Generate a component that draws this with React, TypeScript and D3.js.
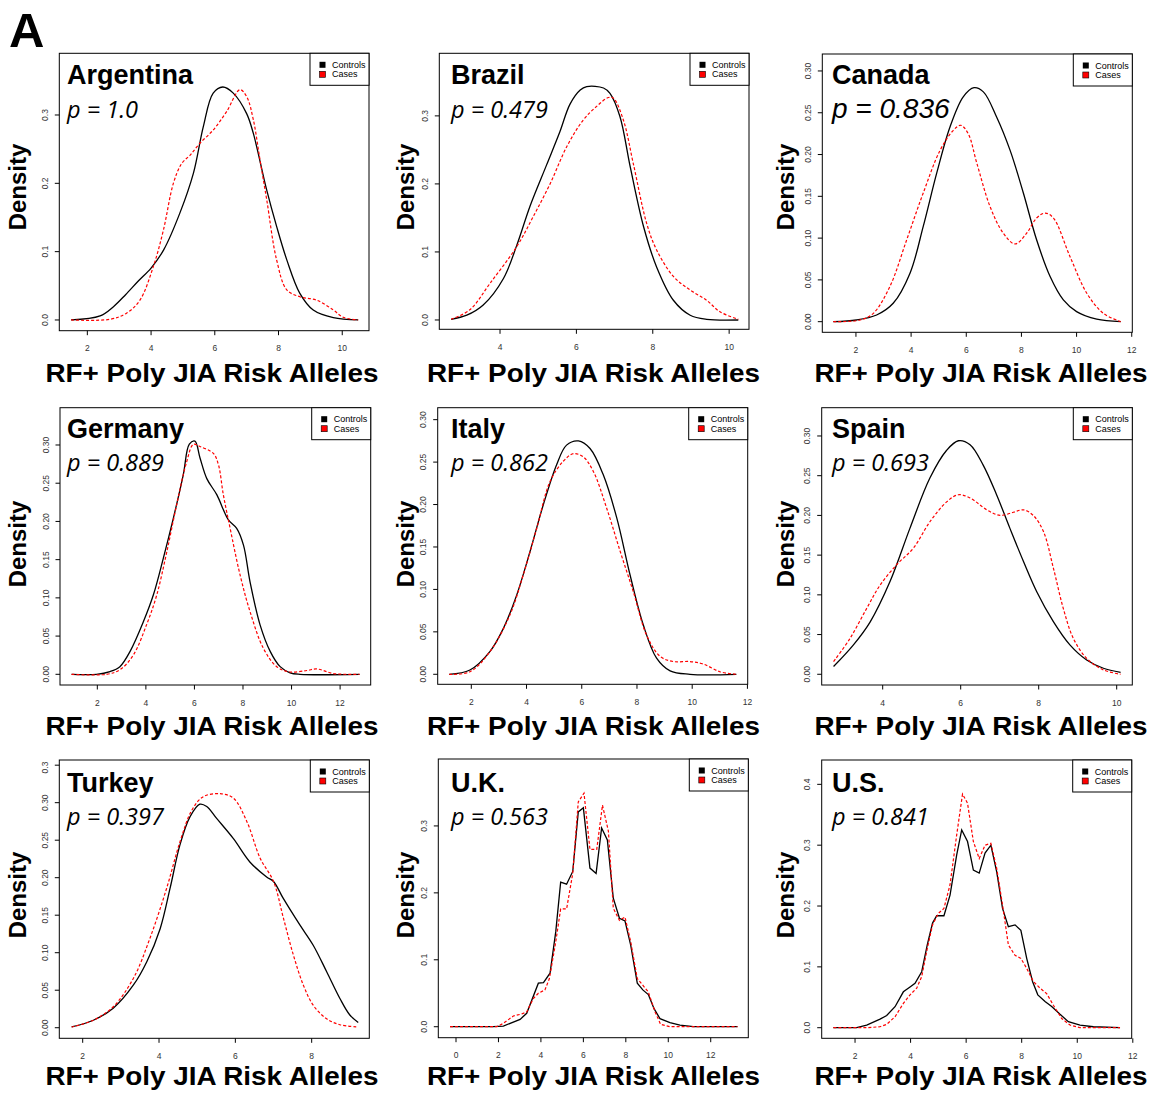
import React from 'react';
import * as d3 from 'd3';

// ---------- text ----------
const COUNTRIES = ['Argentina', 'Brazil', 'Canada', 'Germany', 'Italy', 'Spain', 'Turkey', 'U.K.', 'U.S.'];
const P_LABELS = ['p = 1.0', 'p = 0.479', 'p = 0.836', 'p = 0.889', 'p = 0.862', 'p = 0.693', 'p = 0.397', 'p = 0.563', 'p = 0.841'];
const SERIES = ['Controls', 'Cases'];
const X_LABEL = 'RF+ Poly JIA Risk Alleles';
const Y_LABEL = 'Density';
const PANEL_LETTER = 'A';

// ---------- data: [risk alleles, density] ----------
const ARG_CONTROLS = [[1.49,0],[2.4,0.006],[2.82,0.0195],[3.2,0.037],[3.6,0.057],[4.0,0.076],[4.4,0.103],[4.9,0.156],[5.33,0.215],[5.64,0.283],[5.95,0.332],[6.25,0.341],[6.58,0.332],[7.0,0.302],[7.21,0.273],[7.63,0.19],[7.94,0.137],[8.26,0.088],[8.67,0.039],[9.09,0.0146],[9.72,0.0034],[10.5,0]];
const ARG_CASES = [[1.49,0],[2.71,0.001],[3.23,0.01],[3.65,0.029],[4.07,0.078],[4.39,0.132],[4.7,0.2],[4.96,0.229],[5.22,0.241],[5.54,0.259],[5.95,0.278],[6.37,0.305],[6.79,0.337],[7.0,0.327],[7.21,0.293],[7.42,0.234],[7.63,0.176],[7.94,0.088],[8.26,0.044],[8.67,0.034],[9.2,0.029],[9.72,0.0146],[10.03,0.004],[10.5,0]];
const BRA_CONTROLS = [[2.72,0.001],[3.13,0.007],[3.56,0.022],[4.09,0.061],[4.44,0.11],[4.79,0.168],[5.22,0.228],[5.57,0.277],[5.83,0.317],[6.1,0.338],[6.27,0.343],[6.71,0.341],[6.88,0.333],[7.14,0.299],[7.41,0.225],[7.76,0.137],[8.1,0.078],[8.54,0.029],[8.98,0.007],[9.41,0.001],[10.24,0]];
const BRA_CASES = [[2.72,0.001],[3.21,0.015],[3.74,0.054],[4.44,0.108],[4.87,0.152],[5.31,0.2],[5.75,0.255],[6.18,0.294],[6.53,0.314],[6.84,0.327],[6.97,0.326],[7.23,0.294],[7.49,0.23],[7.84,0.142],[8.1,0.103],[8.54,0.064],[8.98,0.044],[9.41,0.029],[9.76,0.012],[10.24,0.001]];
const CAN_CONTROLS = [[1.18,0],[2.02,0.002],[2.75,0.008],[3.35,0.022],[3.96,0.058],[4.44,0.114],[4.93,0.178],[5.41,0.233],[5.89,0.269],[6.28,0.28],[6.62,0.275],[7.1,0.245],[7.59,0.205],[8.07,0.154],[8.55,0.098],[9.04,0.054],[9.52,0.026],[10.0,0.012],[10.73,0.003],[11.6,0]];
const CAN_CASES = [[1.18,0],[2.15,0.002],[2.63,0.01],[3.23,0.042],[3.84,0.098],[4.44,0.154],[5.05,0.205],[5.53,0.229],[5.8,0.235],[6.07,0.225],[6.38,0.19],[6.86,0.138],[7.34,0.106],[7.77,0.093],[8.19,0.106],[8.55,0.124],[8.86,0.13],[9.16,0.124],[9.76,0.078],[10.37,0.034],[10.97,0.01],[11.6,0]];
const GER_CONTROLS = [[0.94,0],[1.97,0],[2.52,0.0035],[2.93,0.01],[3.35,0.03],[3.9,0.069],[4.31,0.104],[4.72,0.152],[5.13,0.204],[5.54,0.261],[5.79,0.301],[6.02,0.305],[6.23,0.283],[6.51,0.256],[6.92,0.235],[7.4,0.202],[7.74,0.191],[8.02,0.169],[8.29,0.121],[8.7,0.065],[9.12,0.03],[9.53,0.01],[9.94,0.002],[10.35,0],[12.8,0]];
const GER_CASES = [[0.94,0],[2.38,0],[2.93,0.006],[3.48,0.025],[4.03,0.065],[4.45,0.104],[4.86,0.16],[5.27,0.222],[5.68,0.278],[5.96,0.301],[6.23,0.298],[6.78,0.289],[6.99,0.274],[7.19,0.235],[7.47,0.191],[7.88,0.13],[8.29,0.082],[8.84,0.034],[9.39,0.01],[9.94,0.003],[10.63,0.005],[11.04,0.007],[11.73,0.001],[12.8,0]];
const ITA_CONTROLS = [[1.2,0],[1.95,0.005],[2.68,0.027],[3.16,0.054],[3.64,0.093],[4.13,0.145],[4.61,0.2],[5.09,0.247],[5.45,0.27],[5.88,0.275],[6.3,0.266],[6.78,0.235],[7.27,0.184],[7.75,0.117],[8.23,0.058],[8.71,0.019],[9.2,0.004],[9.92,0],[11.6,0]];
const ITA_CASES = [[1.2,0],[1.95,0.003],[2.68,0.027],[3.4,0.07],[3.88,0.117],[4.37,0.172],[4.85,0.227],[5.33,0.251],[5.7,0.26],[6.06,0.256],[6.42,0.239],[6.9,0.196],[7.39,0.145],[7.87,0.097],[8.35,0.046],[8.84,0.021],[9.32,0.015],[9.92,0.015],[10.41,0.012],[11.0,0.003],[11.6,0]];
const SPA_CONTROLS = [[2.74,0.0097],[3.25,0.037],[3.68,0.066],[4.19,0.117],[4.7,0.184],[5.21,0.247],[5.64,0.282],[5.94,0.294],[6.24,0.289],[6.58,0.263],[6.92,0.226],[7.26,0.184],[7.61,0.142],[7.95,0.104],[8.38,0.066],[8.8,0.037],[9.23,0.018],[9.66,0.0076],[10.1,0.0025]];
const SPA_CASES = [[2.74,0.016],[3.16,0.045],[3.59,0.083],[3.93,0.112],[4.36,0.138],[4.79,0.159],[5.21,0.192],[5.64,0.217],[5.94,0.226],[6.24,0.222],[6.67,0.207],[7.01,0.2],[7.35,0.204],[7.61,0.207],[7.86,0.2],[8.12,0.18],[8.38,0.133],[8.63,0.083],[8.89,0.045],[9.23,0.02],[9.66,0.0055],[10.1,0]];
const TUR_CONTROLS = [[1.71,0.001],[2.28,0.01],[2.8,0.026],[3.33,0.057],[3.68,0.088],[4.03,0.132],[4.29,0.186],[4.55,0.244],[4.81,0.281],[5.07,0.298],[5.25,0.295],[5.51,0.279],[5.95,0.252],[6.38,0.221],[6.82,0.201],[7.0,0.195],[7.26,0.172],[7.69,0.137],[8.04,0.11],[8.39,0.075],[8.74,0.039],[9.0,0.017],[9.22,0.007]];
const TUR_CASES = [[1.71,0.001],[2.28,0.01],[2.8,0.028],[3.33,0.066],[3.76,0.119],[4.2,0.186],[4.55,0.248],[4.86,0.29],[5.16,0.308],[5.6,0.312],[5.95,0.306],[6.3,0.275],[6.65,0.226],[7.0,0.195],[7.26,0.146],[7.52,0.097],[7.78,0.057],[8.04,0.03],[8.39,0.012],[8.74,0.004],[9.22,0.001]];
const UK_CONTROLS = [[-0.28,0],[1.76,0],[2.23,0.001],[3.02,0.011],[3.33,0.02],[3.88,0.065],[4.12,0.066],[4.43,0.08],[4.7,0.142],[4.93,0.216],[5.21,0.213],[5.5,0.232],[5.76,0.321],[6.0,0.327],[6.31,0.237],[6.6,0.229],[6.86,0.297],[7.13,0.279],[7.41,0.192],[7.7,0.162],[7.96,0.158],[8.23,0.122],[8.54,0.065],[8.8,0.055],[9.06,0.048],[9.33,0.027],[9.61,0.012],[10.08,0.006],[10.55,0.0025],[11.18,0],[13.26,0]];
const UK_CASES = [[-0.28,0],[1.92,0],[2.23,0.005],[2.7,0.016],[3.09,0.019],[3.33,0.022],[3.64,0.042],[3.88,0.05],[4.19,0.055],[4.4,0.072],[4.7,0.127],[4.93,0.176],[5.21,0.176],[5.5,0.229],[5.76,0.336],[6.03,0.349],[6.31,0.265],[6.63,0.265],[6.9,0.331],[7.18,0.292],[7.41,0.177],[7.7,0.159],[7.96,0.164],[8.23,0.127],[8.54,0.072],[8.8,0.062],[9.06,0.052],[9.38,0.022],[9.64,0.0035],[10.08,0],[13.26,0]];
const US_CONTROLS = [[1.22,0],[2.06,0],[2.42,0.0044],[2.9,0.014],[3.14,0.02],[3.44,0.0345],[3.74,0.059],[3.98,0.067],[4.16,0.073],[4.4,0.092],[4.6,0.136],[4.79,0.172],[4.94,0.184],[5.2,0.184],[5.42,0.218],[5.66,0.284],[5.84,0.325],[6.05,0.306],[6.26,0.259],[6.47,0.254],[6.68,0.287],[6.89,0.3],[7.1,0.256],[7.31,0.196],[7.52,0.166],[7.76,0.169],[7.97,0.16],[8.18,0.114],[8.39,0.076],[8.58,0.054],[8.84,0.043],[9.08,0.035],[9.38,0.022],[9.68,0.01],[10.1,0.0044],[10.58,0.0016],[11.54,0]];
const US_CASES = [[1.22,0],[2.42,0],[2.9,0.0016],[3.14,0.0055],[3.44,0.018],[3.74,0.04],[3.98,0.054],[4.22,0.065],[4.4,0.084],[4.6,0.13],[4.79,0.169],[5.0,0.188],[5.2,0.196],[5.42,0.235],[5.66,0.317],[5.87,0.384],[6.05,0.369],[6.26,0.306],[6.47,0.278],[6.68,0.3],[6.89,0.303],[7.1,0.262],[7.31,0.202],[7.52,0.136],[7.76,0.119],[7.97,0.114],[8.18,0.0975],[8.42,0.076],[8.66,0.065],[8.9,0.056],[9.14,0.037],[9.44,0.015],[9.74,0.0044],[10.1,0],[11.54,0]];

const CONTROLS = [ARG_CONTROLS, BRA_CONTROLS, CAN_CONTROLS, GER_CONTROLS, ITA_CONTROLS, SPA_CONTROLS, TUR_CONTROLS, UK_CONTROLS, US_CONTROLS];
const CASES = [ARG_CASES, BRA_CASES, CAN_CASES, GER_CASES, ITA_CASES, SPA_CASES, TUR_CASES, UK_CASES, US_CASES];

// ---------- axes ----------
const X_TICKS = [[2,4,6,8,10],[4,6,8,10],[2,4,6,8,10,12],[2,4,6,8,10,12],[2,4,6,8,10,12],[4,6,8,10],[2,4,6,8],[0,2,4,6,8,10,12],[2,4,6,8,10,12]];
const Y_TICKS = [[0,0.1,0.2,0.3],[0,0.1,0.2,0.3],[0,0.05,0.1,0.15,0.2,0.25,0.3],[0,0.05,0.1,0.15,0.2,0.25,0.3],[0,0.05,0.1,0.15,0.2,0.25,0.3],[0,0.05,0.1,0.15,0.2,0.25,0.3],[0,0.05,0.1,0.15,0.2,0.25,0.3,0.35],[0,0.1,0.2,0.3],[0,0.1,0.2,0.3,0.4]];
const Y_FORMATS = ['.1f','.1f','.2f','.2f','.2f','.2f','.2f','.1f','.1f'];
const X_DOMAINS = [[1.12,10.84],[2.41,10.52],[0.78,12.02],[0.463,13.26],[0.783,12.01],[2.436,10.4],[1.387,9.51],[-0.834,13.77],[0.8,11.96]];
const Y_DOMAINS = [[-0.0157,0.3903],[-0.0137,0.392],[-0.0127,0.3203],[-0.014,0.3488],[-0.0118,0.3141],[-0.0135,0.3356],[-0.0141,0.3569],[-0.0164,0.4],[-0.0174,0.44]];

// ---------- layout / style ----------
const BOXES = [
  { l: 59.3, r: 369, t: 53.3, b: 330.7 },
  { l: 439.3, r: 749, t: 53.3, b: 329.3 },
  { l: 822.3, r: 1132.3, t: 54, b: 332.3 },
  { l: 60, r: 370.7, t: 407.7, b: 685 },
  { l: 437.7, r: 747.7, t: 407.7, b: 684.3 },
  { l: 821.7, r: 1132.3, t: 407.7, b: 685 },
  { l: 59.3, r: 369.3, t: 760, b: 1038.3 },
  { l: 438.3, r: 748.3, t: 759, b: 1037.7 },
  { l: 821.7, r: 1131.7, t: 760, b: 1038.3 },
];
const COL_TEXT_X = [67, 451, 832];
const COL_YLAB_X = [26, 414, 794];
const COL_XLAB_CX = [212, 593.5, 981];
const ROW_TITLE_Y = [84.3, 438.3, 791.5];
const ROW_P_Y = [118.3, 471, 824.7];
const ROW_YLAB_CY = [187, 544, 895];
const ROW_XLAB_Y = [381.7, 735, 1085];
const ROW_CLIP_TOP = [0, 394, 762];
const LINEAR_PANELS = [false, false, false, false, false, false, false, true, true];
const ARIAL = "'Liberation Sans', Arial, Helvetica, sans-serif";
const PFONT = "'Open Sans', 'Noto Sans', sans-serif";

type Pt = number[];

function Panel({ i }: { i: number }) {
  const box = BOXES[i];
  const col = i % 3;
  const row = Math.floor(i / 3);
  const x = d3.scaleLinear().domain(X_DOMAINS[i]).range([box.l, box.r]);
  const y = d3.scaleLinear().domain(Y_DOMAINS[i]).range([box.b, box.t]);
  const line = d3
    .line<Pt>()
    .x((d) => x(d[0]))
    .y((d) => y(d[1]))
    .curve(LINEAR_PANELS[i] ? d3.curveLinear : d3.curveCatmullRom.alpha(0.5));
  const fmt = d3.format(Y_FORMATS[i]);
  const clipId = `clip-${i}`;
  const lg = { l: box.r - 59, t: box.t };
  const isCanada = i === 2;
  return (
    <g>
      <defs>
        <clipPath id={clipId}>
          <rect x={0} y={ROW_CLIP_TOP[row]} width={1153} height={400} />
        </clipPath>
      </defs>
      <path d={line(CONTROLS[i] as Pt[]) || ''} fill="none" stroke="#000" strokeWidth={1.3} />
      <path d={line(CASES[i] as Pt[]) || ''} fill="none" stroke="#ff0000" strokeWidth={1.2} strokeDasharray="3,2" />
      <rect x={box.l} y={box.t} width={box.r - box.l} height={box.b - box.t} fill="none" stroke="#000" strokeWidth={1} />
      {/* x axis */}
      {X_TICKS[i].map((t) => (
        <g key={'x' + t}>
          <line x1={x(t)} x2={x(t)} y1={box.b} y2={box.b + 4.5} stroke="#000" strokeWidth={1} />
          <text x={x(t)} y={box.b + 20.5} textAnchor="middle" fontSize={8.5} fill="#333" fontFamily={ARIAL}>
            {String(t)}
          </text>
        </g>
      ))}
      {/* y axis */}
      <g clipPath={`url(#${clipId})`}>
        {Y_TICKS[i].map((t) => (
          <g key={'y' + t}>
            {y(t) >= box.t && (
              <line x1={box.l - 4.5} x2={box.l} y1={y(t)} y2={y(t)} stroke="#000" strokeWidth={1} />
            )}
            <text
              transform={`translate(${box.l - 11.5},${y(t)}) rotate(-90)`}
              textAnchor="middle"
              fontSize={8.5}
              fill="#333"
              fontFamily={ARIAL}
            >
              {fmt(t)}
            </text>
          </g>
        ))}
      </g>
      {/* legend */}
      <rect x={lg.l} y={lg.t} width={59} height={32} fill="#fff" stroke="#000" strokeWidth={1} />
      <rect x={lg.l + 9.5} y={lg.t + 8.5} width={6} height={6} fill="#000" />
      <rect x={lg.l + 9.5} y={lg.t + 18} width={6} height={6} fill="#ff0000" stroke="#000" strokeWidth={0.6} />
      <text x={lg.l + 22} y={lg.t + 14.5} fontSize={9} fontFamily={ARIAL} fill="#000">
        {SERIES[0]}
      </text>
      <text x={lg.l + 22} y={lg.t + 24} fontSize={9} fontFamily={ARIAL} fill="#000">
        {SERIES[1]}
      </text>
      {/* titles */}
      <text x={COL_TEXT_X[col]} y={ROW_TITLE_Y[row]} fontSize={27} fontWeight="bold" fontFamily={ARIAL} fill="#000">
        {COUNTRIES[i]}
      </text>
      <text
        x={COL_TEXT_X[col]}
        y={ROW_P_Y[row]}
        fontSize={isCanada ? 28 : 23.5}
        fontStyle="italic"
        fontWeight="normal"
        fontFamily={isCanada ? ARIAL : PFONT}
        fill="#000"
      >
        {P_LABELS[i]}
      </text>
      <text
        transform={`translate(${COL_YLAB_X[col]},${ROW_YLAB_CY[row]}) rotate(-90)`}
        textAnchor="middle"
        fontSize={24}
        fontWeight="bold"
        fontFamily={ARIAL}
        fill="#000"
      >
        {Y_LABEL}
      </text>
      <text
        x={COL_XLAB_CX[col]}
        y={ROW_XLAB_Y[row]}
        textAnchor="middle"
        fontSize={26}
        fontWeight="bold"
        fontFamily={ARIAL}
        fill="#000"
        textLength={333}
        lengthAdjust="spacingAndGlyphs"
      >
        {X_LABEL}
      </text>
    </g>
  );
}

export default function App() {
  return (
    <svg
      width={1153}
      height={1094}
      viewBox="0 0 1153 1094"
      style={{ position: 'absolute', left: 0, top: 0, background: '#fff' }}
    >
      <rect x={0} y={0} width={1153} height={1094} fill="#fff" />
      <text x={9} y={46.7} fontSize={49} fontWeight="bold" fontFamily={ARIAL} fill="#000">
        {PANEL_LETTER}
      </text>
      {COUNTRIES.map((c, i) => (
        <Panel key={c} i={i} />
      ))}
    </svg>
  );
}
